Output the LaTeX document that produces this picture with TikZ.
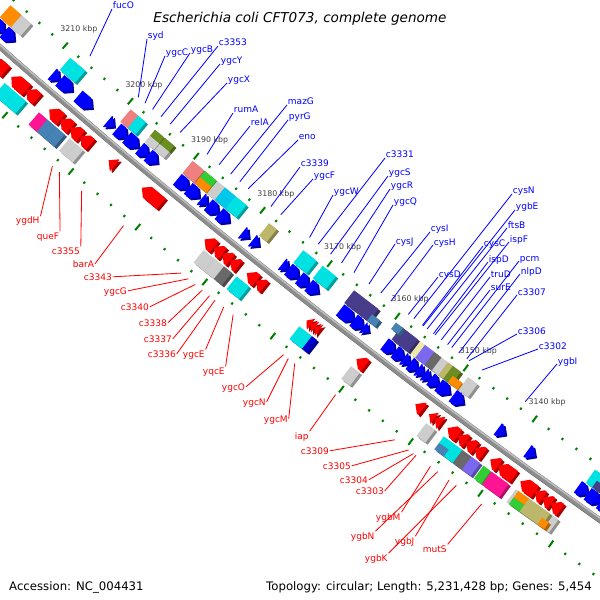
\documentclass[tikz,border=0pt]{standalone}
\usepackage{fontspec}
\setmainfont{DejaVu Sans}

\definecolor{tickgreen}{RGB}{0,128,0}
\definecolor{fwdblue}{RGB}{0,0,255}
\definecolor{revred}{RGB}{255,0,0}
\definecolor{cogcyan}{RGB}{0,225,225}
\definecolor{cogsky}{RGB}{0,200,235}
\definecolor{cogsteel}{RGB}{70,130,180}
\definecolor{cogslate}{RGB}{72,61,139}
\definecolor{cogmslate}{RGB}{123,104,238}
\definecolor{cogsalmon}{RGB}{240,128,128}
\definecolor{cogolive}{RGB}{107,142,35}
\definecolor{coggreen}{RGB}{50,205,50}
\definecolor{cogorange}{RGB}{255,140,0}
\definecolor{cogkhaki}{RGB}{189,183,107}
\definecolor{coglgray}{RGB}{205,205,205}
\definecolor{cogdgray}{RGB}{105,105,105}
\definecolor{cogpink}{RGB}{255,20,147}
\definecolor{cogpale}{RGB}{238,232,170}
\definecolor{cogblue}{RGB}{0,0,205}

% position along the backbone (px) and offset from it (px)
\newcommand{\gp}[2]{({128.144-0.0079811*(#1)}:{7179+(#2)})}

\tikzset{
  fwdlbl/.style={text=fwdblue,font=\fontsize{7.7pt}{9pt}\selectfont,inner sep=0.6pt},
  revlbl/.style={text=revred,font=\fontsize{7.7pt}{9pt}\selectfont,inner sep=0.6pt},
  fwdline/.style={fwdblue,line width=0.7pt},
  revline/.style={revred,line width=0.7pt},
  ticmark/.style={tickgreen,line width=1.7pt},
  kbplbl/.style={text=black!75,font=\fontsize{6.7pt}{8pt}\selectfont,inner sep=0pt},
  shade3d/.style={shift={(2.2,2.2)}},
  oncircle/.style={shift={(4737,-5347)}}
}

\begin{document}
\begin{tikzpicture}[x=0.03cm,y=-0.03cm]
\useasboundingbox (0,0) rectangle (600,600);
\clip (0,0) rectangle (600,600);
\fill[white] (0,0) rectangle (600,600);

\begin{scope}[oncircle]
  % ticks
  \foreach \p in {3114,3116,...,3226}{
    \pgfmathsetmacro\ang{\p*0.0688153-90}
    \pgfmathsetmacro\len{mod(\p,10)==0 ? 4 : 1.2}
    \draw[ticmark] (\ang:{7135-\len}) -- (\ang:{7135+\len});
    \draw[ticmark] (\ang:{7227-\len}) -- (\ang:{7227+\len});
  }
  \foreach \p in {3140,3150,...,3210}{
    \pgfmathsetmacro\ang{\p*0.0688153-90}
    \node[kbplbl] (k\p) at (\ang:7114) {\p\ kbp};
  }

  % backbone
  \draw[black!62,line width=4.5pt,shade3d] plot[domain=-450:430,samples=25] ({128.144-0.0079811*\x}:7179);
  \draw[black!45,line width=4.5pt] plot[domain=-450:430,samples=25] ({128.144-0.0079811*\x}:7179);
  \draw[black!25,line width=1.2pt] plot[domain=-450:430,samples=25] ({128.144-0.0079811*\x}:7177.6);

  % COG boxes, inner side
  \foreach \a/\b/\i/\o/\col in {-414/-399/-38/-22/cogorange, -399/-386/-38/-22/coglgray,
      -334/-314/-38/-22/cogcyan, -254/-244/-38/-22/cogsalmon, -244/-234/-38/-22/cogcyan,
      -222/-210/-38/-30/cogolive, -222/-210/-30/-22/coglgray, -209/-197/-38/-30/cogolive,
      -209/-197/-30/-22/coglgray, -173/-158/-38/-22/cogsalmon, -157/-142/-38/-30/coggreen,
      -157/-142/-30/-22/cogorange, -141/-131/-38/-22/coglgray, -131/-117/-38/-22/cogsky,
      -117/-103/-38/-22/cogcyan, -74/-64/-38/-22/cogkhaki, -30/-13/-38/-22/cogcyan,
      -5/12/-38/-22/cogcyan, 35/50/-38/-22/cogslate, 50/66/-38/-22/cogslate,
      64/74/-30/-22/cogsteel, 95/116/-38/-22/cogslate, 88/97/-38/-30/cogsteel,
      119/125/-38/-22/cogpale, 125/137/-38/-22/cogmslate, 137/146/-38/-22/cogdgray,
      146/154/-38/-22/coglgray, 154/160/-38/-22/cogkhaki, 160/170/-38/-22/cogolive,
      166/178/-30/-22/cogorange, 179/191/-38/-22/coglgray, 337/360/-38/-22/cogcyan,
      345/380/-30/-22/cogslate}{
    \fill[\col!70!black,shade3d] \gp{\a}{\i} -- \gp{\b}{\i} -- \gp{\b}{\o} -- \gp{\a}{\o} -- cycle;
    \fill[\col] \gp{\a}{\i} -- \gp{\b}{\i} -- \gp{\b}{\o} -- \gp{\a}{\o} -- cycle;
  }

  % COG boxes, outer side
  \foreach \a/\b/\i/\o/\col in {-367/-353/24/40/cogcyan, -353/-339/24/40/cogcyan,
      -322/-311/24/40/cogpink, -311/-300/24/40/cogsteel, -300/-288/24/40/cogsteel,
      -282/-273/24/40/coglgray, -273/-264/24/40/coglgray, -108/-94/24/40/coglgray,
      -94/-82/24/40/coglgray, -82/-72/24/40/cogdgray, -66/-50/24/40/cogcyan,
      14/30/24/40/cogcyan, 30/36/24/40/cogblue, 79/90/24/40/coglgray,
      173/184/24/40/coglgray, 195/207/24/32/cogcyan, 195/207/32/40/cogsteel,
      207/218/24/40/cogcyan, 218/229/24/40/cogdgray, 229/240/24/40/cogmslate,
      244/253/24/40/coggreen, 254/275/24/40/cogpink, 284/336/24/40/coglgray,
      287/300/24/32/cogorange, 287/300/32/40/coggreen, 300/326/24/40/cogkhaki,
      322/330/32/40/cogorange}{
    \fill[\col!70!black,shade3d] \gp{\a}{\i} -- \gp{\b}{\i} -- \gp{\b}{\o} -- \gp{\a}{\o} -- cycle;
    \fill[\col] \gp{\a}{\i} -- \gp{\b}{\i} -- \gp{\b}{\o} -- \gp{\a}{\o} -- cycle;
  }

  % forward genes
  \foreach \a/\b in {-414/-401, -401/-388, -337/-328, -327/-311, -303/-285, -264/-256,
      -252/-239, -239/-224, -222/-211, -211/-199, -173/-159, -159/-145, -142/-134,
      -133/-120, -119/-106, -89/-81, -76/-68, -38/-30, -30/-17, -16/-4, -4/8, 36/53,
      53/65, 65/72, 92/105, 105/116, 116/124, 124/134, 134/142, 142/150, 150/160,
      160/174, 178/191, 234/243, 271/280, 333/345, 345/360, 360/380}{
    \pgfmathsetmacro\m{max(\a,\b-7)}
    \fill[fwdblue!65!black,shade3d] \gp{\a}{-21} -- \gp{\m}{-21} -- \gp{\b}{-14} -- \gp{\m}{-7} -- \gp{\a}{-7} -- cycle;
    \fill[fwdblue] \gp{\a}{-21} -- \gp{\m}{-21} -- \gp{\b}{-14} -- \gp{\m}{-7} -- \gp{\a}{-7} -- cycle;
  }

  % reverse genes
  \foreach \a/\b in {-392/-374, -366/-346, -346/-332, -316/-301, -301/-288, -288/-275,
      -275/-262, -238/-230, -195/-170, -114/-102, -102/-91, -91/-81, -81/-71, -60/-48,
      -48/-38, 16/22, 22/27, 27/32, 79/90, 153/162, 170/177, 177/185, 193/206, 206/216,
      216/227, 227/237, 246/256, 256/275, 283/301, 301/311, 311/321, 321/332}{
    \pgfmathsetmacro\m{min(\b,\a+7)}
    \fill[revred!65!black,shade3d] \gp{\a}{15} -- \gp{\m}{8} -- \gp{\b}{8} -- \gp{\b}{22} -- \gp{\m}{22} -- cycle;
    \fill[revred] \gp{\a}{15} -- \gp{\m}{8} -- \gp{\b}{8} -- \gp{\b}{22} -- \gp{\m}{22} -- cycle;
  }
\end{scope}

% forward labels
\foreach \nm/\x/\y/\s in {fucO/112/2/-320, syd/147/32/-256, ygcC/165/49/-247,
    ygcB/190/46/-237, c3353/218/39/-226, ygcY/220/57/-214, ygcX/227/76/-201,
    rumA/233/106/-166, relA/250/119/-150, mazG/287/98/-135, pyrG/288/113/-123,
    eno/298/133/-112, c3339/300/160/-83, ygcF/313/172/-70, ygcW/333/188/-33,
    c3331/385/151/-22, ygcS/388/169/-6, ygcR/390/182/8, ygcQ/393/198/24,
    cysJ/395/237/43, cysI/430/225/58, cysH/433/238/71, cysD/438/270/93,
    cysN/512/187/100, ygbE/515/203/112, ftsB/507/221/117, cysC/483/239/111,
    ispF/509/235/127, ispD/488/255/125, pcm/519/254/148, truD/490/270/135,
    nlpD/520/267/157, surE/490/283/143, c3307/517/288/167, c3306/517/327/170,
    c3302/538/342/186, ygbI/557/357/240}{
  \node[fwdlbl,anchor=base west] (\nm) at (\x,\y+7) {\nm};
  \path[oncircle] \gp{\s}{-52} coordinate (\nm-e);
  \draw[fwdline] (\nm-e) -- (\nm.base west);
}

% reverse labels
\foreach \nm/\x/\y/\s/\an in {ygdH/15/217/-277/north east, queF/36/232/-268/north east,
    c3355/51/247/-239/north east, barA/72/260/-185/mid east, c3343/83/273/-111/mid east,
    ygcG/103/287/-102/mid east, c3340/120/303/-93/mid east, c3338/138/319/-84/mid east,
    c3337/143/335/-75/mid east, c3336/147/350/-68/mid east, ygcE/182/350/-57/north east,
    yqcE/202/367/-45/north east, ygcO/221/383/19/mid east, ygcN/242/398/25/mid east,
    ygcM/263/415/33/mid east, iap/294/432/84/north east, c3309/300/447/158/mid east,
    c3305/322/462/175/mid east, c3304/339/476/181/mid east, c3303/355/487/184/mid east,
    ygbM/375/513/202/north east, ygbN/350/532/211/north east, ygbJ/394/537/225/north east,
    ygbK/364/554/234/north east, mutS/422/545/265/north east}{
  \node[revlbl,anchor=base west] (\nm) at (\x,\y+7) {\nm};
  \path[oncircle] \gp{\s}{56} coordinate (\nm-e);
  \draw[revline] (\nm-e) -- (\nm.\an);
}

\node[font=\fontsize{11.6pt}{13pt}\selectfont\itshape,anchor=base] (title) at (300,22.5) {Escherichia coli CFT073, complete genome};
\node[font=\fontsize{10pt}{12pt}\selectfont,anchor=base west,inner sep=0pt] (acc) at (9,590) {Accession: NC\_004431};
\node[font=\fontsize{10pt}{12pt}\selectfont,anchor=base east,inner sep=0pt] (topo) at (592,590) {Topology: circular; Length: 5,231,428 bp; Genes: 5,454};
\end{tikzpicture}
\end{document}
